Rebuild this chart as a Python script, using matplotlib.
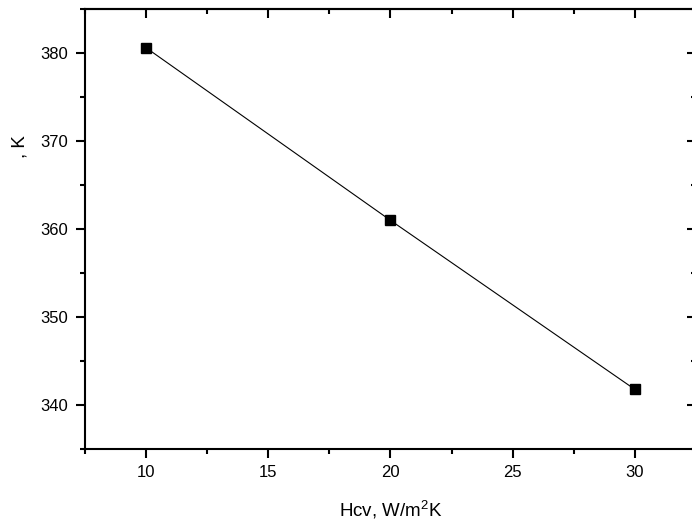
import numpy as np
import matplotlib
matplotlib.use('Agg')
import matplotlib.pyplot as plt
from matplotlib.ticker import MultipleLocator

plt.rcParams['font.family'] = ['Liberation Sans', 'DejaVu Sans']
plt.rcParams['mathtext.default'] = 'regular'

# convection coefficient vs temperature
hcv = [10, 20, 30]
temp_k = [380.6, 361.0, 341.8]

x_label = r'Hcv, W/m$^2$K'
y_label = ', K'

fig = plt.figure(figsize=(6.92, 5.27), dpi=100)
# right edge of the frame runs just past the canvas
ax = fig.add_axes([0.1228, 0.1474, 0.883, 0.8355])

ax.plot(hcv, temp_k, color='black', linewidth=0.8,
        marker='s', markersize=6.5, markerfacecolor='black', markeredgecolor='black')

ax.set_xlim(7.5, 32.5)
ax.set_ylim(335, 385)
ax.xaxis.set_major_locator(MultipleLocator(5))
ax.xaxis.set_minor_locator(MultipleLocator(2.5))
ax.yaxis.set_major_locator(MultipleLocator(10))
ax.yaxis.set_minor_locator(MultipleLocator(5))

for sp in ax.spines.values():
    sp.set_linewidth(1.5)

ax.tick_params(which='both', width=1.5, labelsize=12)
ax.tick_params(which='major', length=6.5)
ax.tick_params(which='minor', length=3.6)
ax.tick_params(axis='x', which='both', direction='out', top=False, pad=4.5)
ax.tick_params(axis='y', which='both', direction='out', right=False, pad=5.5)

# inward ticks on the top and right edges, no labels
top = ax.secondary_xaxis('top')
top.xaxis.set_major_locator(MultipleLocator(5))
top.xaxis.set_minor_locator(MultipleLocator(2.5))
top.tick_params(which='both', direction='in', width=1.5, labeltop=False)
top.tick_params(which='major', length=6.5)
top.tick_params(which='minor', length=3.6)
top.spines['top'].set_linewidth(1.5)

right = ax.secondary_yaxis('right')
right.yaxis.set_major_locator(MultipleLocator(10))
right.yaxis.set_minor_locator(MultipleLocator(5))
right.tick_params(which='both', direction='in', width=1.5, labelright=False)
right.tick_params(which='major', length=6.5)
right.tick_params(which='minor', length=3.6)
right.spines['right'].set_linewidth(1.5)

ax.set_xlabel(x_label, fontsize=13.5, labelpad=14)
ax.set_ylabel(y_label, fontsize=13.5)
ax.yaxis.set_label_coords(-0.092, 0.687)

fig.savefig('out.png', dpi=100)
